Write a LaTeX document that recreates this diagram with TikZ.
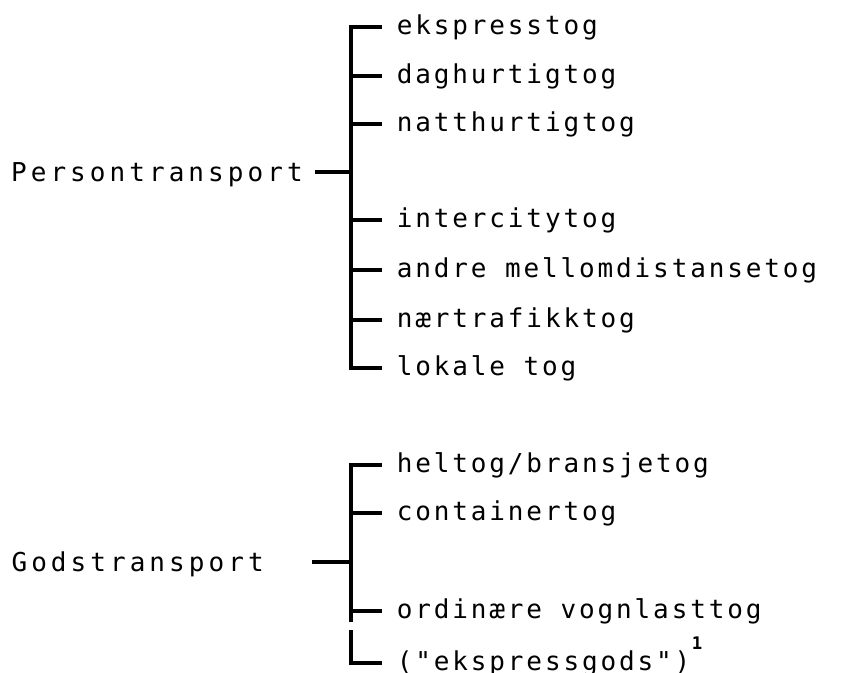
\documentclass[tikz,border=0pt]{standalone}
\usepackage{fontspec}
\newfontfamily\itemfont[LetterSpace=11]{DejaVu Sans Mono}
\newfontfamily\headfont[LetterSpace=15.6]{DejaVu Sans Mono}
\newfontfamily\notefont{DejaVu Sans Mono Bold}
\tikzset{
  item/.style={anchor=west, inner xsep=11pt, inner ysep=0pt, text height=10.5pt, text depth=0pt,
    font=\itemfont\fontsize{19.5pt}{22pt}\selectfont},
  head/.style={anchor=east, inner ysep=0pt, text height=14pt, text depth=0pt,
    font=\headfont\fontsize{19.5pt}{22pt}\selectfont},
  fnmark/.style={inner sep=0pt, font=\notefont\fontsize{13pt}{14pt}\selectfont},
  bracket/.style={line width=2.4pt, line join=miter},
}
\begin{document}
\begin{tikzpicture}[x=0.75pt, y=-0.75pt]
\useasboundingbox (0,0) rectangle (853,672);

% passenger transport
\node[head, inner xsep=9pt] (pers) at (315,172) {Persontransport};
\node[item] (p1) at (382,27)  {ekspresstog};
\node[item] (p2) at (382,76)  {daghurtigtog};
\node[item] (p3) at (382,124) {natthurtigtog};
\node[item] (p4) at (382,220) {intercitytog};
\node[item] (p5) at (382,270) {andre mellomdistansetog};
\node[item] (p6) at (382,320) {nærtrafikktog};
\node[item] (p7) at (382,368) {lokale tog};
\coordinate (pspine) at (351,368);

\draw[bracket] (p1.west) -| (pspine) -- (p7.west);
\foreach \n in {p2,p3,p4,p5,p6}
  \draw[bracket] (\n.west -| pspine) -- (\n.west);
\draw[bracket] (pers.east) -- (pers.east -| pspine);

% freight transport
\node[head, inner xsep=36pt] (gods) at (312,562) {Godstransport};
\node[item] (g1) at (382,465) {heltog/bransjetog};
\node[item] (g2) at (382,513) {containertog};
\node[item] (g3) at (382,611) {ordinære vognlasttog};
\node[item] (g4) at (382,663) {("ekspressgods")};
\node[fnmark] (fn) at (697,643) {1};
\coordinate (gspine) at (351,622);
\coordinate (gtail) at (351,630);

\draw[bracket] (g1.west) -| (gspine);
\foreach \n in {g2,g3}
  \draw[bracket] (\n.west -| gspine) -- (\n.west);
\draw[bracket] (gods.east) -- (gods.east -| gspine);
\draw[bracket] (gtail) |- (g4.west);
\end{tikzpicture}
\end{document}
